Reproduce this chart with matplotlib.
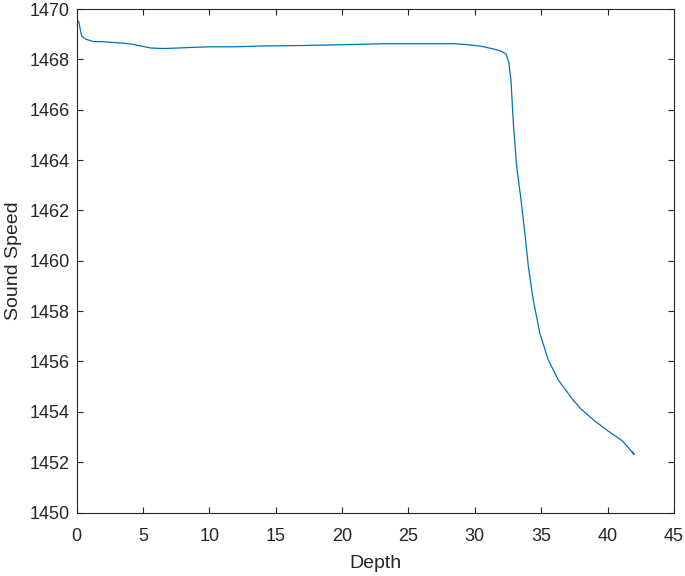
import matplotlib
matplotlib.use("Agg")
import matplotlib.pyplot as plt
import numpy as np

# sound speed profile
depth = [0.0, 0.17, 0.38, 0.7, 1.25, 2.0, 3.0, 3.6, 4.2, 4.75, 5.6, 6.5, 7.65, 9.0,
         10.2, 12.0, 13.9, 17.0, 20.0, 23.0, 25.0, 28.5, 29.5, 30.5, 31.5, 32.0,
         32.35, 32.55, 32.72, 32.9, 33.15, 33.48, 33.8, 34.03, 34.4, 34.9, 35.53,
         36.29, 37.4, 37.96, 39.0, 40.0, 41.1, 41.6, 42.0, 41.85]
speed = [1469.55, 1469.5, 1468.93, 1468.8, 1468.71, 1468.7, 1468.66, 1468.64, 1468.6,
         1468.54, 1468.45, 1468.43, 1468.45, 1468.48, 1468.5, 1468.5, 1468.53, 1468.55,
         1468.58, 1468.62, 1468.62, 1468.62, 1468.58, 1468.52, 1468.4, 1468.32,
         1468.21, 1467.9, 1467.18, 1465.46, 1463.74, 1462.41, 1460.95, 1459.77,
         1458.44, 1457.12, 1456.06, 1455.26, 1454.47, 1454.13, 1453.65, 1453.25,
         1452.85, 1452.55, 1452.3, 1452.42]

xticks = list(range(0, 46, 5))
yticks = list(range(1450, 1471, 2))

plt.rcParams["font.family"] = ["Liberation Sans", "DejaVu Sans"]
dark = "#262626"

fig = plt.figure(figsize=(6.85, 5.76), dpi=100)
ax = fig.add_axes([76.5 / 685, 1 - 512.5 / 576, (674 - 76.5) / 685, (512.5 - 9) / 576])

ax.plot(depth, speed, color="#0072BD", linewidth=0.9)

ax.set_xlim(0, 45)
ax.set_ylim(1450, 1470)
ax.set_xticks(xticks)
ax.set_yticks(yticks)
ax.tick_params(axis="both", direction="in", top=True, right=True, length=4,
               width=0.8, color=dark, labelcolor=dark, labelsize=13)
ax.tick_params(axis="x", pad=11)
ax.tick_params(axis="y", pad=5)
for s in ax.spines.values():
  s.set_color(dark)
  s.set_linewidth(0.8)

ax.set_xlabel("Depth", fontsize=14, color=dark, labelpad=7)
ax.set_ylabel("Sound Speed", fontsize=14, color=dark, labelpad=5)

fig.savefig("out.png", dpi=100)
